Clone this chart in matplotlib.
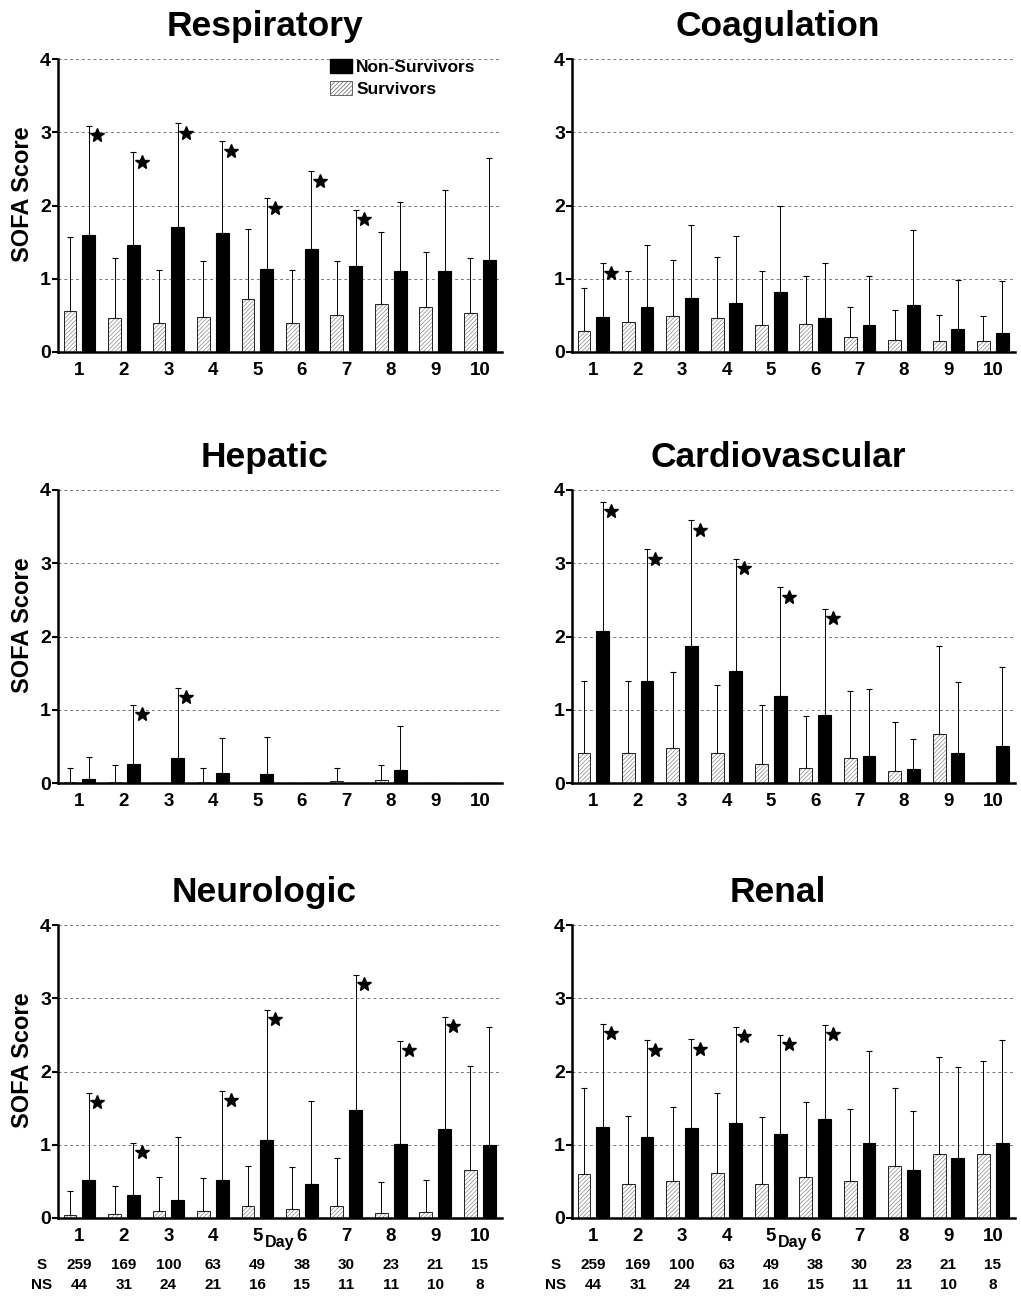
import matplotlib
matplotlib.use("Agg")
import matplotlib.pyplot as plt
import matplotlib.patches as mpatches
import numpy as np

plt.rcParams['font.family'] = ['Liberation Sans', 'DejaVu Sans']
plt.rcParams['font.weight'] = 'bold'
plt.rcParams['hatch.linewidth'] = 0.5

days = np.arange(1, 11)
surv_n = [259, 169, 100, 63, 49, 38, 30, 23, 21, 15]
nonsurv_n = [44, 31, 24, 21, 16, 15, 11, 11, 10, 8]

# mean score and top of the SD bar, survivors (S) and non-survivors (NS)
resp_s = [0.56, 0.46, 0.39, 0.48, 0.72, 0.40, 0.50, 0.65, 0.62, 0.53]
resp_s_top = [1.57, 1.28, 1.12, 1.24, 1.68, 1.12, 1.24, 1.64, 1.36, 1.28]
resp_ns = [1.60, 1.46, 1.71, 1.63, 1.13, 1.40, 1.18, 1.10, 1.10, 1.26]
resp_ns_top = [3.09, 2.73, 3.12, 2.88, 2.10, 2.47, 1.94, 2.05, 2.21, 2.65]
resp_stars = [1, 2, 3, 4, 5, 6, 7]

coag_s = [0.28, 0.41, 0.49, 0.47, 0.37, 0.38, 0.20, 0.17, 0.15, 0.15]
coag_s_top = [0.87, 1.10, 1.26, 1.30, 1.10, 1.04, 0.61, 0.57, 0.51, 0.49]
coag_ns = [0.48, 0.62, 0.74, 0.67, 0.82, 0.47, 0.37, 0.64, 0.31, 0.26]
coag_ns_top = [1.21, 1.46, 1.74, 1.59, 2.00, 1.21, 1.04, 1.67, 0.98, 0.97]
coag_stars = [1]

hep_s = [0.01, 0.01, 0.0, 0.02, 0.0, 0.0, 0.03, 0.04, 0.0, 0.0]
hep_s_top = [0.20, 0.24, None, 0.21, None, None, 0.21, 0.25, None, None]
hep_ns = [0.05, 0.26, 0.34, 0.14, 0.12, 0.0, 0.0, 0.18, 0.0, 0.0]
hep_ns_top = [0.35, 1.07, 1.30, 0.62, 0.63, None, None, 0.78, None, None]
hep_stars = [2, 3]

card_s = [0.41, 0.41, 0.48, 0.41, 0.26, 0.21, 0.34, 0.17, 0.67, 0.0]
card_s_top = [1.39, 1.39, 1.52, 1.34, 1.07, 0.91, 1.26, 0.83, 1.87, None]
card_ns = [2.07, 1.39, 1.87, 1.53, 1.19, 0.93, 0.37, 0.19, 0.41, 0.51]
card_ns_top = [3.84, 3.19, 3.59, 3.06, 2.67, 2.38, 1.29, 0.60, 1.38, 1.58]
card_stars = [1, 2, 3, 4, 5, 6]

neuro_s = [0.04, 0.05, 0.09, 0.10, 0.16, 0.12, 0.16, 0.07, 0.08, 0.66]
neuro_s_top = [0.37, 0.44, 0.56, 0.55, 0.71, 0.70, 0.82, 0.49, 0.52, 2.08]
neuro_ns = [0.52, 0.32, 0.25, 0.52, 1.07, 0.46, 1.47, 1.01, 1.21, 1.00]
neuro_ns_top = [1.71, 1.03, 1.10, 1.74, 2.84, 1.60, 3.32, 2.42, 2.75, 2.61]
neuro_stars = [1, 2, 4, 5, 7, 8, 9]

renal_s = [0.60, 0.46, 0.51, 0.62, 0.47, 0.56, 0.51, 0.71, 0.87, 0.88]
renal_s_top = [1.77, 1.39, 1.51, 1.70, 1.38, 1.58, 1.49, 1.77, 2.20, 2.14]
renal_ns = [1.24, 1.11, 1.23, 1.30, 1.14, 1.35, 1.02, 0.65, 0.82, 1.02]
renal_ns_top = [2.65, 2.43, 2.44, 2.61, 2.50, 2.64, 2.28, 1.46, 2.06, 2.43]
renal_stars = [1, 2, 3, 4, 5, 6]

panels = [
    ("Respiratory", resp_s, resp_s_top, resp_ns, resp_ns_top, resp_stars),
    ("Coagulation", coag_s, coag_s_top, coag_ns, coag_ns_top, coag_stars),
    ("Hepatic", hep_s, hep_s_top, hep_ns, hep_ns_top, hep_stars),
    ("Cardiovascular", card_s, card_s_top, card_ns, card_ns_top, card_stars),
    ("Neurologic", neuro_s, neuro_s_top, neuro_ns, neuro_ns_top, neuro_stars),
    ("Renal", renal_s, renal_s_top, renal_ns, renal_ns_top, renal_stars),
]

W, H = 1021, 1296
fig = plt.figure(figsize=(W / 100, H / 100), dpi=100)

col_x = [(58, 502), (572, 1015)]
row_y = [(59, 352), (490, 783), (925, 1218)]

bw = 0.29
off = 0.21

for i, (title, s, s_top, ns, ns_top, stars) in enumerate(panels):
    r, c = divmod(i, 2)
    x0, x1 = col_x[c]
    y0, y1 = row_y[r]
    ax = fig.add_axes([x0 / W, 1 - y1 / H, (x1 - x0) / W, (y1 - y0) / H])

    s = np.array(s, dtype=float)
    ns = np.array(ns, dtype=float)
    s_top = np.array([np.nan if v is None else v for v in s_top])
    ns_top = np.array([np.nan if v is None else v for v in ns_top])

    xs = days - off
    xn = days + off
    # survivors: grey hatch on white, thin outline
    ax.bar(xs, s, bw, color='white', edgecolor='#8a8a8a', hatch='////////', lw=0, zorder=2)
    ax.bar(xs, s, bw, fill=False, edgecolor='#222222', lw=0.7, zorder=3)
    ax.bar(xn, ns, bw, color='black', edgecolor='black', lw=0.8, zorder=3)

    ax.errorbar(xs, s, yerr=[np.zeros(10), s_top - s], fmt='none', ecolor='black',
                elinewidth=0.7, capsize=2.5, capthick=0.8, zorder=2)
    ax.errorbar(xn, ns, yerr=[np.zeros(10), ns_top - ns], fmt='none', ecolor='black',
                elinewidth=0.7, capsize=2.5, capthick=0.8, zorder=2)

    for d in stars:
        ax.plot(d + off + 0.19, ns_top[d - 1] - 0.13, marker='*', ms=10, color='black',
                mec='black', zorder=4)

    ax.set_xlim(0.52, 10.5)
    ax.set_ylim(0, 4)
    ax.set_yticks([0, 1, 2, 3, 4])
    ax.set_xticks(days)
    ax.set_xticklabels([str(d) for d in days], fontsize=13.5, fontweight='bold')
    ax.tick_params(axis='x', length=0, pad=7)
    ax.tick_params(axis='y', length=4, width=1.5, labelsize=14, pad=1)
    for lab in ax.get_yticklabels():
        lab.set_fontweight('bold')

    ax.set_axisbelow(True)
    ax.yaxis.grid(True, linestyle=(0, (3, 3)), color='#777777', lw=0.7)
    for side in ['top', 'right']:
        ax.spines[side].set_visible(False)
    for side in ['left', 'bottom']:
        ax.spines[side].set_linewidth(1.8)

    ax.text(0.465, 1 + 23 / 293, title, transform=ax.transAxes, ha='center',
            va='baseline', fontsize=25.5, fontweight='bold')

    if c == 0:
        ax.text(-0.081, 0.54, "SOFA Score", transform=ax.transAxes, rotation=90,
                ha='center', va='center', fontsize=17, fontweight='bold')

    if i == 0:
        h_ns = mpatches.Patch(facecolor='black', edgecolor='black')
        h_s = mpatches.Patch(facecolor='white', edgecolor='#666666', hatch='////////', lw=0.7)
        ax.legend([h_ns, h_s], ["Non-Survivors", "Survivors"], loc='upper left',
                  bbox_to_anchor=(0.613, 1.0), frameon=False, fontsize=12.5,
                  handlelength=1.25, handleheight=0.85, handletextpad=0.25,
                  labelspacing=0.35, borderpad=0, borderaxespad=0)

    if r == 2:
        ax.text(5.5, -0.085, "Day", transform=ax.get_xaxis_transform(), ha='center',
                va='center', fontsize=11.5, fontweight='bold')
        ax.text(-0.036, -0.16, "S", transform=ax.transAxes, ha='center', va='center',
                fontsize=11, fontweight='bold')
        ax.text(-0.036, -0.229, "NS", transform=ax.transAxes, ha='center', va='center',
                fontsize=11, fontweight='bold')
        for d, n1, n2 in zip(days, surv_n, nonsurv_n):
            ax.text(d, -0.16, str(n1), transform=ax.get_xaxis_transform(), ha='center',
                    va='center', fontsize=11, fontweight='bold')
            ax.text(d, -0.229, str(n2), transform=ax.get_xaxis_transform(), ha='center',
                    va='center', fontsize=11, fontweight='bold')

fig.savefig("out.png", dpi=100)
